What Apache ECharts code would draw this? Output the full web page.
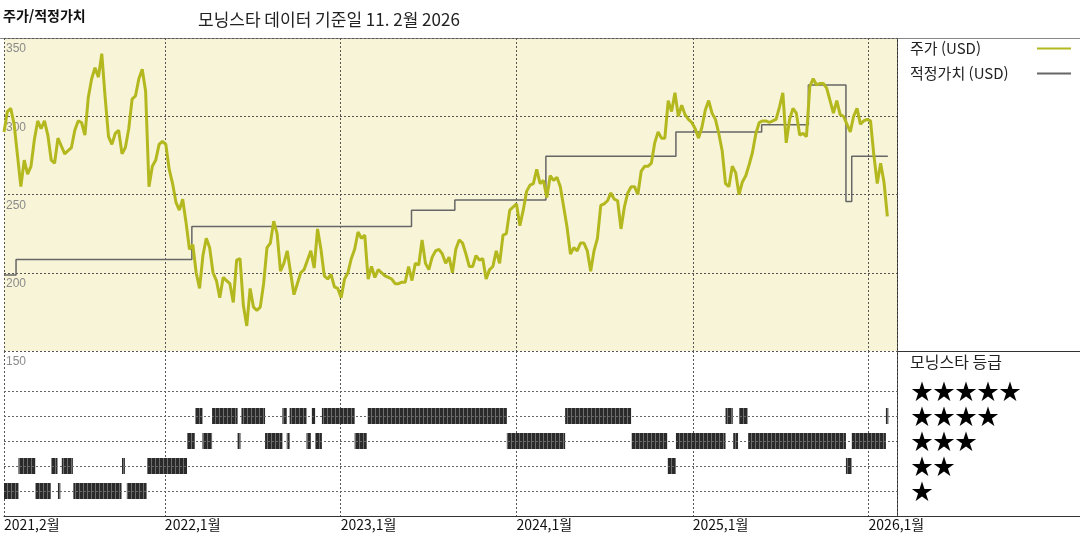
<!DOCTYPE html>
<html lang="ko">
<head>
<meta charset="UTF-8">
<title>주가/적정가치</title>
<style>html,body{margin:0;padding:0;background:#fff;}</style>
</head>
<body>
<div id="chart" style="width:1080px;height:540px"></div>
<script src="https://cdn.jsdelivr.net/npm/echarts@6/dist/echarts.min.js"></script>
<script>
// 주가: 2021-02-01 부터 주 단위
var priceStart = [2021, 1, 1];
var priceStepDays = 7;
var price = [
    290, 303, 305, 295, 275, 255, 272, 263, 268, 285,
    297, 292, 297, 288, 272, 270, 286, 281, 276, 278,
    280, 291, 297, 296, 288, 312, 324, 331, 325, 340,
    312, 287, 282, 289, 291, 276, 280, 292, 311, 313,
    324, 330, 316, 255, 268, 272, 282, 284, 282, 266,
    257, 245, 240, 247, 232, 215, 218, 200, 190, 211,
    222, 216, 200, 195, 184, 197, 195, 193, 181, 208,
    209, 179, 166, 190, 178, 176, 178, 193, 216, 219,
    233, 225, 201, 206, 214, 200, 186, 193, 200, 202,
    208, 214, 203, 228, 215, 198, 196, 199, 191, 190,
    184, 196, 200, 209, 215, 226, 222, 224, 196, 204,
    197, 202, 200, 198, 197, 196, 193, 193, 194, 194,
    204, 195, 206, 205, 221, 206, 202, 210, 214, 215,
    212, 206, 210, 200, 215, 221, 219, 212, 204, 204,
    211, 208, 209, 196, 202, 204, 214, 206, 224, 225,
    240, 242, 244, 230, 240, 252, 256, 257, 266, 257,
    259, 248, 262, 259, 261, 255, 242, 229, 212, 216,
    214, 219, 219, 214, 201, 214, 222, 243, 244, 246,
    251, 247, 246, 228, 242, 251, 255, 255, 250, 265,
    268, 268, 270, 283, 290, 286, 286, 310, 303, 315,
    300, 307, 301, 298, 296, 292, 286, 293, 304, 310,
    302, 298, 289, 278, 257, 255, 268, 264, 250, 258,
    262, 269, 277, 289, 296, 297, 297, 296, 297, 298,
    306, 315, 283, 298, 305, 302, 288, 289, 287, 319,
    324, 320, 321, 321, 318, 310, 302, 310, 301, 300,
    295, 290, 300, 305, 295, 297, 298, 297, 275, 257,
    270, 258, 236
];

// 적정가치 (변경일, 값)
var fairDates = ['2021-02-01', '2021-02-26', '2022-02-26', '2023-05-28', '2023-08-26', '2024-03-02',
                 '2024-11-27', '2025-05-24', '2025-08-29', '2025-11-15', '2025-11-27', '2026-02-10'];
var fairValues = [198.5, 208.5, 229.5, 240, 246.5, 274.5, 290, 294.5, 320, 245.5, 274.5, 274.5];

// 모닝스타 등급 구간
var ratingFrom = ['2021-02-01', '2021-03-03', '2021-04-07', '2021-05-10', '2021-05-24', '2021-06-01',
                  '2021-06-25', '2021-10-04', '2021-10-14', '2021-11-25', '2022-02-16', '2022-03-05',
                  '2022-03-20', '2022-04-09', '2022-06-01', '2022-06-09', '2022-07-28', '2022-09-02',
                  '2022-09-11', '2022-09-17', '2022-10-22', '2022-11-02', '2022-11-09', '2022-11-23',
                  '2023-01-30', '2023-02-26', '2023-12-12', '2024-04-11', '2024-08-27', '2024-11-10',
                  '2024-11-27', '2025-03-10', '2025-03-26', '2025-04-07', '2025-04-26', '2025-11-15',
                  '2025-11-27', '2026-02-06'];
var ratingTo = ['2021-03-03', '2021-04-07', '2021-05-09', '2021-05-23', '2021-05-29', '2021-06-24',
                '2021-10-03', '2021-10-10', '2021-11-24', '2022-02-16', '2022-03-04', '2022-03-20',
                '2022-04-09', '2022-06-01', '2022-06-07', '2022-07-28', '2022-09-02', '2022-09-11',
                '2022-09-17', '2022-10-22', '2022-10-31', '2022-11-09', '2022-11-23', '2023-01-30',
                '2023-02-24', '2023-12-12', '2024-04-11', '2024-08-26', '2024-11-09', '2024-11-27',
                '2025-03-10', '2025-03-25', '2025-04-05', '2025-04-25', '2025-11-15', '2025-11-27',
                '2026-02-06', '2026-02-11'];
var ratingStars = [1, 2, 1, 2, 1, 2, 1, 2, 1, 2, 3, 4, 3, 4, 3, 4, 3, 4, 3, 4, 3, 4, 3, 4,
                   3, 4, 3, 4, 3, 2, 3, 4, 3, 4, 3, 2, 3, 4];
var ratingLevels = [1, 2, 3, 4, 5];

var priceTicks = [150, 350, 50];   // min, max, 간격
var axisStart = '2021-02-01';
var axisEnd = '2026-03-01';

var KFONT = '"Noto Sans CJK KR", "Noto Sans", sans-serif';

var priceData = price.map(function (v, i) {
    var d = new Date(priceStart[0], priceStart[1], priceStart[2] + i * priceStepDays);
    return [d.getTime(), v];
});
var fairData = fairDates.map(function (d, i) { return [d, fairValues[i]]; });
var ratingData = ratingFrom.map(function (d, i) { return [d, ratingTo[i], ratingStars[i]]; });

// 등급 막대 줄무늬
var stripe = document.createElement('canvas');
stripe.width = 4; stripe.height = 2;
var sctx = stripe.getContext('2d');
sctx.fillStyle = '#2a2a2a'; sctx.fillRect(0, 0, 4, 2);
sctx.fillStyle = '#6e6e6e'; sctx.fillRect(3, 0, 1, 2);

var chart = echarts.init(document.getElementById('chart'));

var option = {
    animation: false,
    textStyle: { fontFamily: KFONT },
    title: [
        { text: '주가/적정가치', left: 3, top: 9, padding: 0,
          textStyle: { fontSize: 14, fontWeight: 'bold', color: '#111', fontFamily: KFONT } },
        { text: '모닝스타 데이터 기준일 11. 2월 2026', left: 198, top: 11, padding: 0,
          textStyle: { fontSize: 17, fontWeight: 'normal', color: '#222', fontFamily: KFONT } },
        { text: '모닝스타 등급', left: 910, top: 354, padding: 0,
          textStyle: { fontSize: 16, fontWeight: 'normal', color: '#222', fontFamily: KFONT } }
    ],
    legend: {
        orient: 'vertical',
        left: 910, top: 41,
        padding: 0,
        itemGap: 10,
        itemWidth: 34,
        itemHeight: 16,
        align: 'right',
        selectedMode: false,
        itemStyle: { opacity: 0 },
        formatter: '{t|{name}}',
        textStyle: {
            fontSize: 15, color: '#222', fontFamily: KFONT,
            rich: { t: { width: 122, align: 'left', fontSize: 15, color: '#222', fontFamily: KFONT } }
        },
        data: ['주가 (USD)', '적정가치 (USD)']
    },
    grid: [
        { left: 4, top: 38, width: 893, height: 313, show: true,
          backgroundColor: '#f8f4d8', borderWidth: 0, outerBoundsMode: 'none' },
        { left: 4, top: 351, width: 893, height: 165, outerBoundsMode: 'none' }
    ],
    xAxis: [
        { type: 'time', gridIndex: 0, min: axisStart, max: axisEnd,
          minInterval: 365 * 86400000, maxInterval: 366 * 86400000,
          axisLine: { show: false }, axisTick: { show: false }, axisLabel: { show: false },
          splitLine: { show: true, lineStyle: { color: '#555', type: [2, 2], width: 1 } } },
        { type: 'time', gridIndex: 1, min: axisStart, max: axisEnd,
          minInterval: 365 * 86400000, maxInterval: 366 * 86400000,
          axisLine: { show: true, lineStyle: { color: '#333', width: 1 } },
          axisTick: { show: false },
          axisLabel: {
              show: true, showMinLabel: true, showMaxLabel: false,
              align: 'left', margin: 2, color: '#111', fontSize: 14, fontFamily: KFONT,
              formatter: function (val) {
                  var d = new Date(val);
                  return d.getFullYear() + ',' + (d.getMonth() + 1) + '월';
              }
          },
          splitLine: { show: true, lineStyle: { color: '#555', type: [2, 2], width: 1 } } }
    ],
    yAxis: [
        { type: 'value', gridIndex: 0, min: priceTicks[0], max: priceTicks[1], interval: priceTicks[2],
          axisLine: { show: false }, axisTick: { show: false },
          axisLabel: { inside: true, margin: 2, verticalAlign: 'top', padding: [5, 0, 0, 0],
                       color: '#8a8a8a', fontSize: 12, fontFamily: 'Liberation Sans, sans-serif' },
          splitLine: { show: true, lineStyle: { color: '#555', type: [2, 2], width: 1 } } },
        { type: 'value', gridIndex: 1, min: 0, max: 6.6, interval: 1, position: 'right',
          axisLine: { show: false }, axisTick: { show: false }, splitLine: { show: false },
          axisLabel: {
              margin: 14, fontSize: 22, color: '#000', align: 'left', fontFamily: KFONT,
              formatter: function (v) {
                  return ratingLevels.indexOf(v) >= 0 ? '★★★★★'.slice(0, v) : '';
              }
          } }
    ],
    series: [
        {
            name: '적정가치 (USD)',
            type: 'line',
            xAxisIndex: 0, yAxisIndex: 0,
            step: 'end',
            symbol: 'none',
            data: fairData,
            lineStyle: { color: '#666', width: 1.5 },
            itemStyle: { color: '#666' }
        },
        {
            name: '주가 (USD)',
            type: 'line',
            xAxisIndex: 0, yAxisIndex: 0,
            symbol: 'none',
            data: priceData,
            lineStyle: { color: '#b4b81f', width: 3 },
            itemStyle: { color: '#b4b81f' }
        },
        {
            name: '등급선',
            type: 'line',
            xAxisIndex: 1, yAxisIndex: 1,
            data: [],
            z: 1,
            markLine: {
                silent: true,
                symbol: 'none',
                label: { show: false },
                lineStyle: { color: '#666', type: [2, 2], width: 1 },
                data: ratingLevels.map(function (r) { return { yAxis: r }; })
            }
        },
        {
            name: '등급',
            type: 'custom',
            xAxisIndex: 1, yAxisIndex: 1,
            encode: { x: [0, 1], y: 2 },
            data: ratingData,
            renderItem: function (params, api) {
                var a = api.coord([api.value(0), api.value(2)]);
                var b = api.coord([api.value(1), api.value(2)]);
                return {
                    type: 'rect',
                    shape: { x: a[0], y: a[1] - 8, width: Math.max(b[0] - a[0], 1.5), height: 16 },
                    style: { fill: { image: stripe, repeat: 'repeat' } }
                };
            },
            z: 3
        }
    ],
    graphic: [
        { type: 'line', silent: true, shape: { x1: 0, y1: 38.5, x2: 1080, y2: 38.5 },
          style: { stroke: '#888', lineWidth: 1 } },
        { type: 'line', silent: true, shape: { x1: 897.5, y1: 38, x2: 897.5, y2: 517 },
          style: { stroke: '#333', lineWidth: 1 } },
        { type: 'line', silent: true, shape: { x1: 897, y1: 351.5, x2: 1080, y2: 351.5 },
          style: { stroke: '#333', lineWidth: 1 } },
        { type: 'line', silent: true, shape: { x1: 4, y1: 516.5, x2: 1080, y2: 516.5 },
          style: { stroke: '#333', lineWidth: 1 } }
    ]
};

chart.setOption(option);
</script>
</body>
</html>
